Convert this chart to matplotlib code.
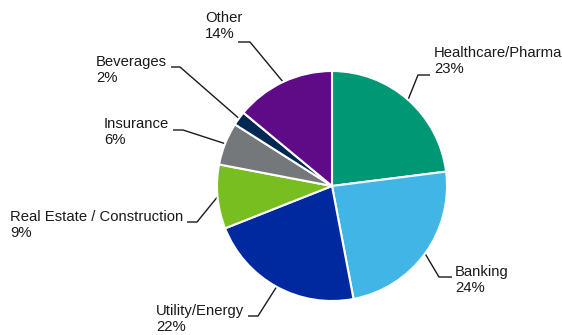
import numpy as np
import matplotlib.pyplot as plt

plt.rcParams['font.family'] = ['Liberation Sans', 'DejaVu Sans']

sectors = ['Healthcare/Pharma', 'Banking', 'Utility/Energy', 'Real Estate / Construction',
           'Insurance', 'Beverages', 'Other']
shares = [23, 24, 22, 9, 6, 2, 14]
colors = ['#009775', '#41b6e6', '#0029a0', '#78be20', '#75787b', '#002855', '#5f0a87']

W, H = 562, 335
# label layout in pixel coords (y down): elbow x, elbow y, end of short tick x, text x, text top
layout = {
    'Healthcare/Pharma': (418, 75, 430, 434, 46),
    'Banking': (439, 277, 452, 455, 265),
    'Utility/Energy': (258, 316, 248, 156, 304),
    'Real Estate / Construction': (197, 222, 187, 10, 210),
    'Insurance': (183, 130, 173, 104, 117),
    'Beverages': (180, 67, 171, 96, 55),
    'Other': (250, 42, 238, 205, 11),
}

fig = plt.figure(figsize=(W / 100, H / 100), dpi=100)
ax = fig.add_axes([0, 0, 1, 1])

cx, cy, r = 332, H - 186, 115
wedges, _ = ax.pie(shares, colors=colors, startangle=90, counterclock=False,
                   center=(cx, cy), radius=r,
                   wedgeprops=dict(edgecolor='white', linewidth=1.5))

for w, name, val in zip(wedges, sectors, shares):
    ang = np.deg2rad((w.theta1 + w.theta2) / 2)
    x0, y0 = cx + r * np.cos(ang), cy + r * np.sin(ang)
    ex, ey, tx, lx, ty = layout[name]
    ax.plot([x0, ex, tx], [y0, H - ey, H - ey], color='#1a1a1a', lw=1.0,
            solid_capstyle='butt', zorder=0)
    ax.text(lx, H - ty, f'{name}\n{val}%', ha='left', va='top', fontsize=10.7,
            color='#1a1a1a', linespacing=1.2)

ax.set_xlim(0, W)
ax.set_ylim(0, H)
ax.set_aspect('equal')
ax.axis('off')

fig.savefig('out.png', dpi=100)
